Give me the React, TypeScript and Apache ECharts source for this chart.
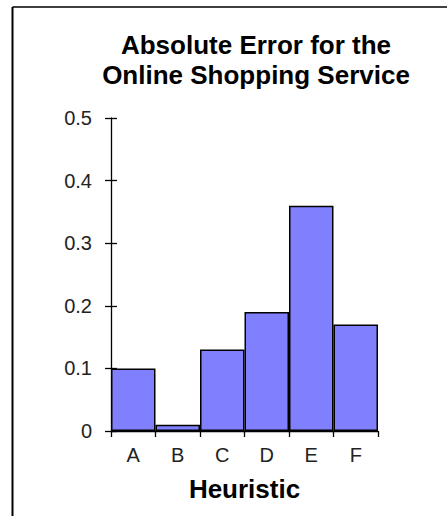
import React, { useEffect, useRef } from "react";
import * as echarts from "echarts";

const categories = ["A", "B", "C", "D", "E", "F"];
const absoluteError = [0.1, 0.01, 0.13, 0.19, 0.36, 0.17];
const yTickValues = [0, 0.1, 0.2, 0.3, 0.4, 0.5];
const yTickLabels = ["0", "0.1", "0.2", "0.3", "0.4", "0.5"];
const titleLines = ["Absolute Error for the", "Online Shopping Service"];
const xAxisTitle = "Heuristic";

export default function App() {
  const ref = useRef<HTMLDivElement>(null);
  useEffect(() => {
    if (!ref.current) return;
    const chart = echarts.init(ref.current, undefined, { renderer: "svg" });
    const font = "Liberation Sans, Arial, sans-serif";
    const fmt = (v: number) => {
      const i = yTickValues.findIndex((t) => Math.abs(t - v) < 1e-9);
      return i >= 0 ? yTickLabels[i] : "";
    };
    chart.setOption({
      animation: false,
      backgroundColor: "#fff",
      grid: { left: 111, right: 69, top: 118, bottom: 85 },
      graphic: [
        {
          type: "line",
          shape: { x1: 12.5, y1: 7, x2: 447, y2: 7 },
          style: { stroke: "#000", lineWidth: 1.6 },
        },
        {
          type: "line",
          shape: { x1: 12.5, y1: 7, x2: 12.5, y2: 516 },
          style: { stroke: "#000", lineWidth: 2 },
        },
        {
          type: "text",
          x: 256,
          y: 30,
          style: {
            text: titleLines.join("\n"),
            font: `bold 26px ${font}`,
            lineHeight: 30,
            fill: "#000",
            align: "center",
            verticalAlign: "top",
          },
        },
      ],
      xAxis: {
        type: "category",
        data: categories,
        boundaryGap: true,
        name: xAxisTitle,
        nameLocation: "middle",
        nameGap: 45,
        nameTextStyle: { fontFamily: font, fontSize: 26, fontWeight: "bold", color: "#000" },
        axisLine: { show: true, lineStyle: { color: "#000", width: 1.3 } },
        axisTick: { show: true, inside: false, length: 6, alignWithLabel: false, lineStyle: { color: "#000", width: 1.3 } },
        axisLabel: { fontFamily: font, fontSize: 20, color: "#222", margin: 14 },
        splitLine: { show: false },
      },
      yAxis: [
        {
          type: "value",
          min: 0,
          max: 0.5,
          interval: 0.1,
          axisLine: { show: true, lineStyle: { color: "#000", width: 1.3 } },
          axisTick: { show: true, inside: false, length: 6, lineStyle: { color: "#000", width: 1.3 } },
          axisLabel: { fontFamily: font, fontSize: 20, color: "#222", margin: 19, formatter: fmt },
          splitLine: { show: false },
        },
        {
          type: "value",
          position: "left",
          min: 0,
          max: 0.5,
          interval: 0.1,
          axisLine: { show: false },
          axisTick: { show: true, inside: true, length: 6, lineStyle: { color: "#000", width: 1.3 } },
          axisLabel: { show: false },
          splitLine: { show: false },
        },
      ],
      series: [
        {
          type: "bar",
          data: absoluteError,
          barCategoryGap: "0%",
          itemStyle: { color: "#8080FF", borderColor: "#000", borderWidth: 1.5 },
        },
      ],
    });
    return () => chart.dispose();
  }, []);
  return (
    <div
      ref={ref}
      style={{ position: "absolute", left: 0, top: 0, width: 447, height: 516 }}
    />
  );
}
